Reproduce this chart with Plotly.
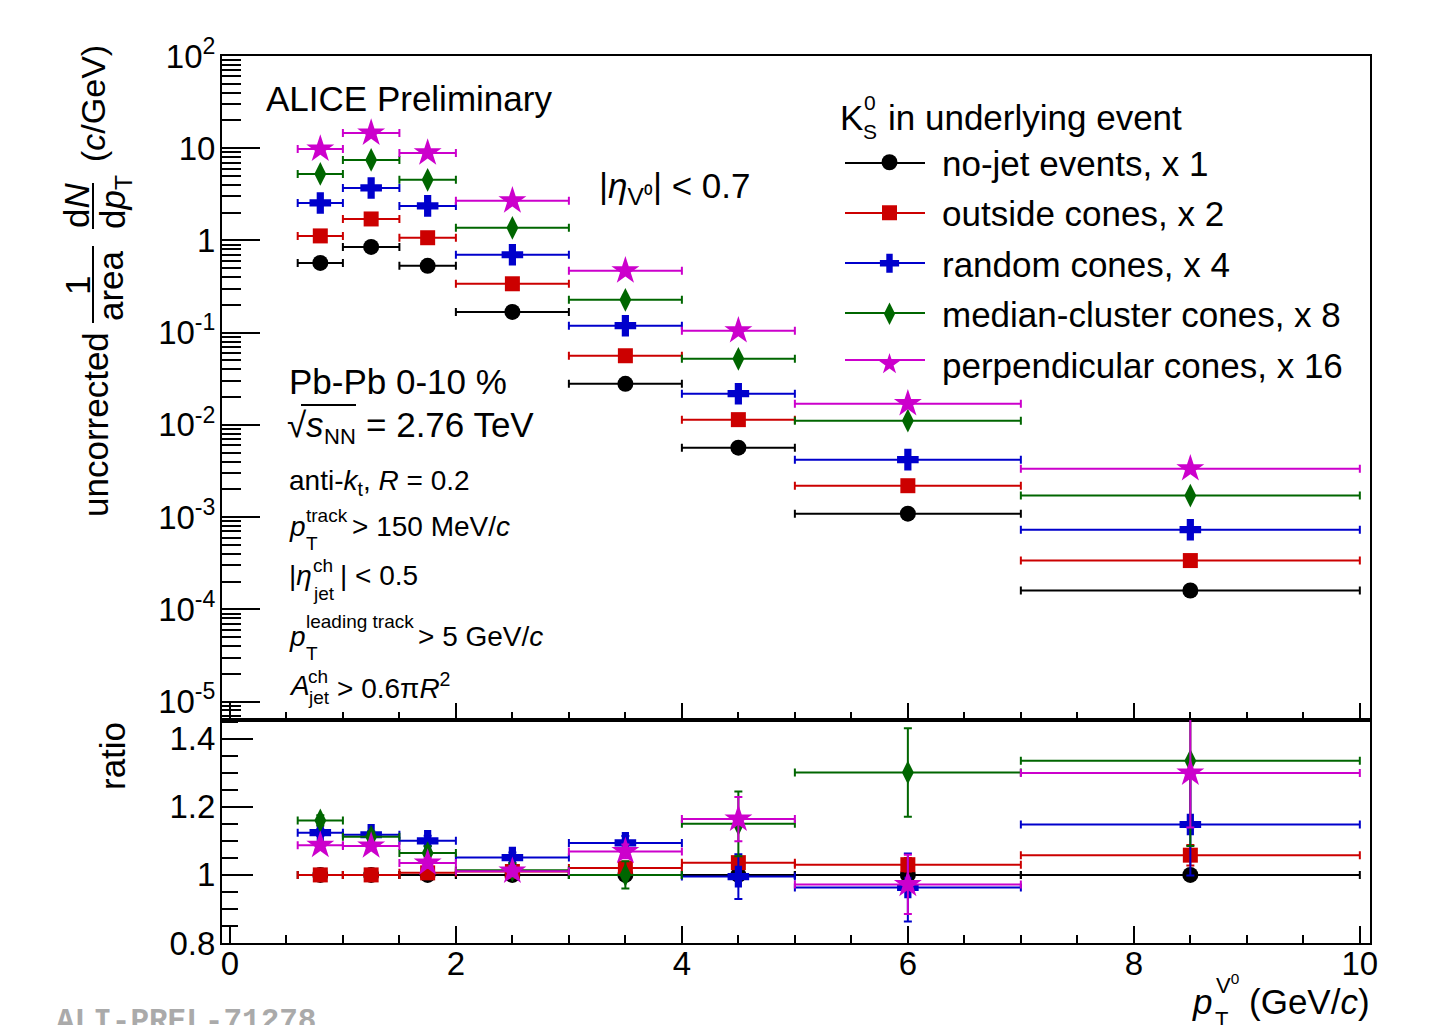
import plotly.graph_objects as go

# ---------------- data ----------------
pt_center = [0.8, 1.25, 1.75, 2.5, 3.5, 4.5, 6.0, 8.5]
pt_halfwidth = [0.2, 0.25, 0.25, 0.5, 0.5, 0.5, 1.0, 1.5]

names = ["no-jet events, x 1", "outside cones, x 2", "random cones, x 4",
         "median-cluster cones, x 8", "perpendicular cones, x 16"]

spec_nojet = [0.57, 0.85, 0.53, 0.168, 0.0279, 0.00566, 0.00109, 1.6e-4]
spec_outside = [1.12, 1.71, 1.07, 0.339, 0.0562, 0.0114, 0.00219, 3.38e-4]
spec_random = [2.55, 3.71, 2.37, 0.70, 0.119, 0.0218, 0.0042, 7.3e-4]
spec_median = [5.27, 7.47, 4.54, 1.37, 0.227, 0.0521, 0.0111, 0.00171]
spec_perp = [9.8, 14.6, 8.9, 2.69, 0.469, 0.105, 0.017, 0.00335]

ratio_nojet = [1.0, 1.0, 1.0, 1.0, 1.0, 1.0, 1.0, 1.0]
ratio_outside = [1.0, 1.0, 1.006, 1.010, 1.020, 1.036, 1.030, 1.058]
ratio_random = [1.124, 1.118, 1.100, 1.051, 1.094, 0.995, 0.963, 1.148]
ratio_median = [1.160, 1.112, 1.064, 1.014, 1.000, 1.150, 1.301, 1.335]
ratio_perp = [1.087, 1.085, 1.035, 1.011, 1.069, 1.164, 0.972, 1.299]

rerr_nojet = [0, 0, 0, 0, 0, 0, 0, 0]
rerr_outside = [0.005, 0.005, 0.006, 0.008, 0.010, 0.015, 0.020, 0.030]
rerr_random = [0.010, 0.010, 0.015, 0.015, 0.020, 0.066, 0.100, 0.150]
rerr_median = [0.015, 0.015, 0.020, 0.020, 0.040, 0.095, 0.130, 0.250]
rerr_perp = [0.010, 0.010, 0.015, 0.015, 0.020, 0.065, 0.087, 0.160]

y_tickvals = [1e-5, 1e-4, 1e-3, 1e-2, 1e-1, 1, 10, 100]
y_ticktext = ["10<sup>-5</sup>", "10<sup>-4</sup>", "10<sup>-3</sup>", "10<sup>-2</sup>",
              "10<sup>-1</sup>", "1", "10", "10<sup>2</sup>"]
r_tickvals = [0.8, 1.0, 1.2, 1.4]
r_ticktext = ["0.8", "1", "1.2", "1.4"]
x_tickvals = [0, 2, 4, 6, 8, 10]
x_ticktext = ["0", "2", "4", "6", "8", "10"]

spectra = [spec_nojet, spec_outside, spec_random, spec_median, spec_perp]
ratios = [ratio_nojet, ratio_outside, ratio_random, ratio_median, ratio_perp]
rerrs = [rerr_nojet, rerr_outside, rerr_random, rerr_median, rerr_perp]
colors = ["#000000", "#cc0000", "#0000cc", "#006600", "#cc00cc"]
symbols = ["circle", "square", "cross", "diamond-tall", "star"]
msizes = [16, 15, 18, 17, 21]

# ---------------- geometry helpers ----------------
W, H = 1445, 1025          # page size
OFF = 8                    # default body margin of the html page
L, R, T, B = 222, 1370, 56, 943   # plot frame in page pixels
SPLIT = 720
FONT = "Liberation Sans, Arial, Helvetica, sans-serif"


def X(px):
    return (px - L) / (R - L)


def Y(py):
    return (B - py) / (B - T)


split_frac = (B - SPLIT) / (B - T)

fig = go.Figure()

for i in range(5):
    fig.add_trace(go.Scatter(
        x=pt_center, y=spectra[i], mode="markers", name=names[i],
        legendgroup=names[i], showlegend=True,
        marker=dict(symbol=symbols[i], size=msizes[i], color=colors[i], line=dict(width=0)),
        error_x=dict(type="data", array=pt_halfwidth, color=colors[i], thickness=2, width=4),
        xaxis="x", yaxis="y", cliponaxis=True))

for i in range(5):
    fig.add_trace(go.Scatter(
        x=pt_center, y=ratios[i], mode="markers", name=names[i],
        legendgroup=names[i], showlegend=False,
        marker=dict(symbol=symbols[i], size=msizes[i], color=colors[i], line=dict(width=0)),
        error_x=dict(type="data", array=pt_halfwidth, color=colors[i], thickness=2, width=4),
        error_y=dict(type="data", array=rerrs[i], color=colors[i], thickness=2, width=4,
                     visible=True),
        xaxis="x2", yaxis="y2", cliponaxis=True))

minor_log = [k * 10.0 ** e for e in range(-6, 2) for k in range(2, 10)]

axis_common = dict(showline=True, linecolor="black", linewidth=2, mirror=True,
                   showgrid=False, zeroline=False, ticks="inside", tickcolor="black",
                   tickwidth=2)

fig.update_layout(
    width=W - OFF, height=H - OFF,
    margin=dict(l=L - OFF, r=W - R, t=T - OFF, b=H - B, pad=0),
    paper_bgcolor="white", plot_bgcolor="white",
    font=dict(family=FONT, size=33, color="black"),
    xaxis=dict(domain=[0, 1], anchor="y", range=[-0.07, 10.09],
               tickmode="array", tickvals=x_tickvals, ticktext=x_ticktext,
               showticklabels=False, ticklen=17,
               minor=dict(dtick=0.5, tick0=0, ticklen=8, tickwidth=2, tickcolor="black",
                          ticks="inside", showgrid=False),
               **axis_common),
    xaxis2=dict(domain=[0, 1], anchor="y2", range=[-0.07, 10.09], matches="x",
                tickmode="array", tickvals=x_tickvals, ticktext=x_ticktext,
                showticklabels=True, ticklen=17, tickfont=dict(size=33),
                ticklabelstandoff=-10,
                minor=dict(dtick=0.5, tick0=0, ticklen=8, tickwidth=2, tickcolor="black",
                           ticks="inside", showgrid=False),
                **axis_common),
    yaxis=dict(domain=[split_frac, 1], anchor="x", type="log", range=[-5.2, 2],
               tickmode="array", tickvals=y_tickvals, ticktext=y_ticktext,
               ticklen=38, tickfont=dict(size=33), ticklabelstandoff=-2,
               minor=dict(tickmode="array", tickvals=minor_log, ticklen=19, tickwidth=2,
                          tickcolor="black", ticks="inside", showgrid=False),
               **axis_common),
    yaxis2=dict(domain=[0, split_frac], anchor="x2", range=[0.8, 1.455],
                tickmode="array", tickvals=r_tickvals, ticktext=r_ticktext,
                ticklen=31, tickfont=dict(size=33), ticklabelstandoff=-2,
                minor=dict(dtick=0.05, tick0=0.8, ticklen=16, tickwidth=2,
                           tickcolor="black", ticks="inside", showgrid=False),
                **axis_common),
    legend=dict(x=X(837), y=Y(133), xanchor="left", yanchor="top",
                font=dict(size=35, family=FONT, color="black"),
                itemwidth=95, tracegroupgap=2, traceorder="grouped",
                bgcolor="rgba(0,0,0,0)", borderwidth=0),
    showlegend=True,
)

# legend key lines (decoration)
legend_rows = [163, 213, 263, 313, 360]
shapes = []
for i, ry in enumerate(legend_rows):
    shapes.append(dict(type="line", xref="paper", yref="paper", x0=X(845), x1=X(925),
                       y0=Y(ry), y1=Y(ry), line=dict(color=colors[i], width=2), layer="above"))
# fraction bars in y title and sqrt overline
shapes.append(dict(type="line", xref="paper", yref="paper", x0=X(93), x1=X(93),
                   y0=Y(183), y1=Y(229), line=dict(color="black", width=2)))
shapes.append(dict(type="line", xref="paper", yref="paper", x0=X(93), x1=X(93),
                   y0=Y(246), y1=Y(323), line=dict(color="black", width=2)))
shapes.append(dict(type="line", xref="paper", yref="paper", x0=X(301), x1=X(356),
                   y0=Y(405), y1=Y(405), line=dict(color="black", width=2)))
fig.update_layout(shapes=shapes)

ann = []


def txt(text, px, py, size, xanchor="left", angle=0, color="black", family=FONT):
    ann.append(dict(text=text, x=X(px), y=Y(py), xref="paper", yref="paper",
                    xanchor=xanchor, yanchor="middle", showarrow=False, textangle=angle,
                    font=dict(size=size, color=color, family=family)))


txt("ALICE Preliminary", 264, 98, 35)
txt("|<i>η</i><sub>V⁰</sub>| < 0.7", 597, 188, 35)

# legend header
txt("K", 838, 117, 35)
txt("0", 862, 103, 21)
txt("S", 861, 131, 21)
txt("in underlying event", 886, 117, 35)

# lower-left texts
txt("Pb-Pb 0-10 %", 287, 381, 35)
txt("√", 285, 424, 35)
txt("<i>s</i>", 304, 424, 35)
txt("NN", 322, 436, 22)
txt("= 2.76 TeV", 364, 424, 35)
txt("anti-<i>k</i><sub>t</sub>, <i>R</i> = 0.2", 287, 482, 28)
txt("<i>p</i>", 287, 526, 28)
txt("track", 304, 515, 19)
txt("T", 304, 543, 19)
txt("> 150 MeV/<i>c</i>", 350, 526, 28)
txt("|<i>η</i>", 287, 575, 28)
txt("ch", 311, 565, 19)
txt("jet", 311, 593, 19)
txt("| < 0.5", 338, 575, 28)
txt("<i>p</i>", 287, 636, 28)
txt("leading track", 304, 622, 19)
txt("T", 304, 653, 19)
txt("> 5 GeV/<i>c</i>", 416, 636, 28)
txt("<i>A</i>", 287, 686, 28)
txt("ch", 306, 676, 19)
txt("jet", 306, 698, 19)
txt("> 0.6π<i>R</i><sup>2</sup>", 335, 686, 28)

# y-axis titles (rotated)
txt("uncorrected", 95, 425, 35, xanchor="center", angle=-90)
txt("1", 77, 286, 35, xanchor="center", angle=-90)
txt("area", 110, 286, 35, xanchor="center", angle=-90)
txt("d<i>N</i>", 76, 206, 35, xanchor="center", angle=-90)
txt("d<i>p</i><sub>T</sub>", 115, 202, 35, xanchor="center", angle=-90)
txt("(<i>c</i>/GeV)", 93, 104, 34, xanchor="center", angle=-90)
txt("ratio", 112, 756, 35, xanchor="center", angle=-90)

# x-axis title
txt("<i>p</i>", 1190, 1001, 35)
txt("V<sup>0</sup>", 1214, 984, 22)
txt("T", 1213, 1019, 22)
txt("(GeV/<i>c</i>)", 1247, 1001, 35)

# watermark
txt("<b>ALI-PREL-71278</b>", 54, 1021, 31, color="#aaaaaa",
    family="Liberation Mono, Courier New, monospace")

fig.update_layout(annotations=ann)

fig.write_html("out.html")
